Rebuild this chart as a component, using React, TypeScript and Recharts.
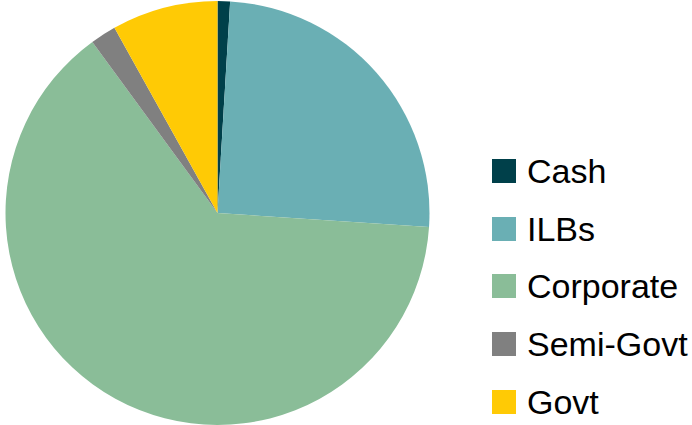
import { Cell, Legend, Pie, PieChart } from "recharts";

const SECTORS = ["Cash", "ILBs", "Corporate", "Semi-Govt", "Govt"];
const WEIGHTS = [0.95, 25.1, 63.9, 1.97, 8.08];
const COLORS = ["#00404A", "#6AAFB4", "#8ABD98", "#808080", "#FFCA05"];

const data = SECTORS.map((name, i) => ({ name, value: WEIGHTS[i] }));

function LegendList() {
	return (
		<ul style={{ listStyle: "none", margin: 0, padding: 0 }}>
			{SECTORS.map((name, i) => (
				<li
					key={name}
					style={{ display: "flex", alignItems: "center", height: 57.7, whiteSpace: "nowrap" }}
				>
					<span
						style={{
							display: "inline-block",
							width: 24,
							height: 24,
							background: COLORS[i],
							marginRight: 11,
						}}
					/>
					<span style={{ fontSize: 34, color: "#000", lineHeight: "34px" }}>{name}</span>
				</li>
			))}
		</ul>
	);
}

export default function App() {
	return (
		<div style={{ width: 692, height: 425, fontFamily: "'Liberation Sans', Arial, sans-serif" }}>
			<style>{"body{margin:0}"}</style>
			<PieChart width={692} height={425} margin={{ top: 0, right: 0, bottom: 0, left: 0 }}>
				<Pie
					data={data}
					dataKey="value"
					nameKey="name"
					cx={217.5}
					cy={213}
					outerRadius={212}
					startAngle={90}
					endAngle={-270}
					stroke="none"
					isAnimationActive={false}
				>
					{data.map((_, i) => (
						<Cell key={i} fill={COLORS[i]} />
					))}
				</Pie>
				<Legend
					layout="vertical"
					align="right"
					verticalAlign="top"
					wrapperStyle={{ left: 492, top: 142, width: 200 }}
					content={() => <LegendList />}
				/>
			</PieChart>
		</div>
	);
}
